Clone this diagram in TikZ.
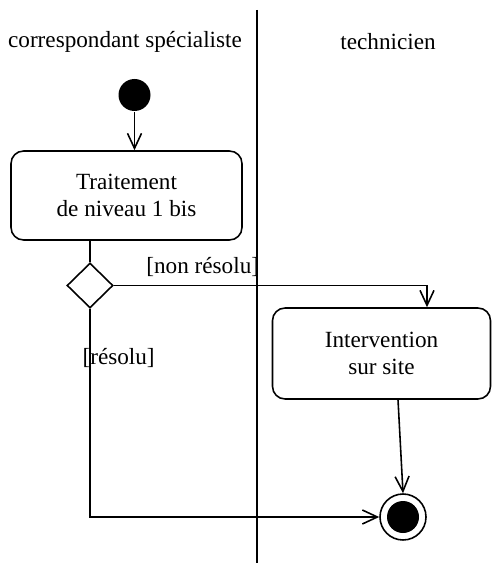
\documentclass[tikz,border=0pt]{standalone}
\usepackage{fontspec}
\setmainfont{Liberation Serif}
\usetikzlibrary{
  arrows.meta,
  positioning,
  calc,
  shapes.geometric
}

\begin{document}
\begin{tikzpicture}[
        x=0.02cm, y=-0.02cm,
        line width=0.9pt,
        >={Straight Barb[length=3mm,width=2.8mm]},
        every node/.style={font=\fontsize{13.2}{15.5}\selectfont},
        activite/.style={draw, rounded corners=0.25cm, align=center, inner sep=0pt},
        debut/.style={circle, fill=black, minimum size=0.64cm, inner sep=0pt},
        decision/.style={diamond, draw, minimum width=0.92cm, minimum height=0.9cm, inner sep=0pt},
        finale/.style={circle, draw, fill=white, minimum size=0.92cm, inner sep=0pt,
            path picture={\fill[black] (path picture bounding box.center) circle (0.32cm);}}
    ]
        \useasboundingbox (0,0) rectangle (494,563);
        % Couloirs
        \coordinate (hautcouloir) at (257,10);
        \coordinate (bascouloir) at (257,563);
        \draw (hautcouloir) -- (bascouloir);
        \foreach \x/\nom/\texte in {125/cs/correspondant spécialiste, 388/tech/technicien} {
            \node (\nom) at (\x, 42) {\texte};
        }
        % Noeuds
        \node[debut] (depart) at (134.5, 95) {};
        \node[activite, minimum width=4.62cm, minimum height=1.78cm] (traitement) at (126.5, 195.5)
            {Traitement\\de niveau 1 bis};
        \node[decision] (choix) at (90, 285.5) {};
        \node[activite, minimum width=4.36cm, minimum height=1.82cm] (intervention) at (381.5, 353.5)
            {Intervention\\sur site};
        \node[finale] (fin) at (403, 517) {};
        % Transitions
        \draw[->] (depart) -- (depart |- traitement.north);
        \draw (traitement.south -| choix) -- (choix.north);
        \draw[->] (choix.east) -| ($(intervention.north)+(45.5,0)$)
            node[pos=0.142, above=1pt] (nonresolu) {[non résolu]};
        \draw[->] (choix.south) |- (fin.west)
            node[pos=0.117, right=-8pt] (resolu) {[résolu]};
        \draw[->] ($(intervention.south)+(16.5,0)$) -- (fin.north);
\end{tikzpicture}
\end{document}
